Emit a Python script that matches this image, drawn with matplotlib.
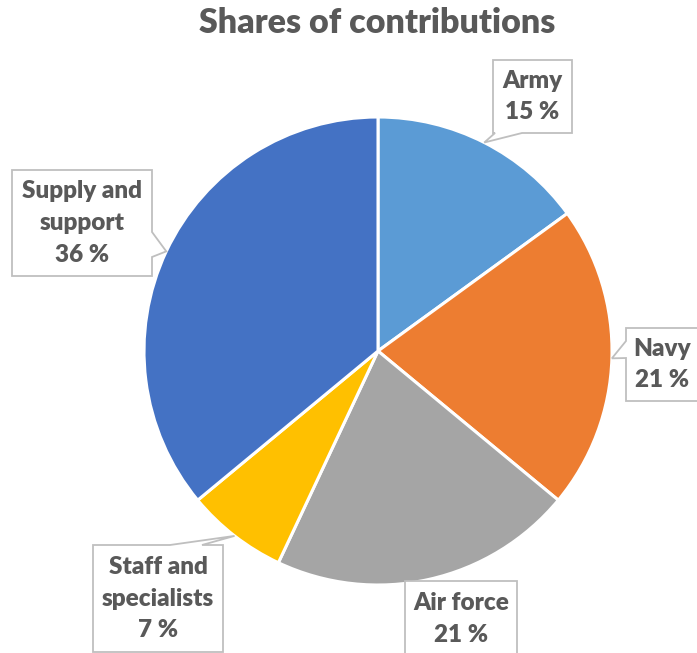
import numpy as np
import matplotlib.pyplot as plt
from matplotlib.patches import Polygon

plt.rcParams['font.family'] = ['Lato', 'DejaVu Sans']

# Shares of contributions (%), clockwise from 12 o'clock
labels = ['Army', 'Navy', 'Air force', 'Staff and\nspecialists', 'Supply and\nsupport']
shares = [15, 21, 21, 7, 36]
colors = ['#5B9BD5', '#ED7D31', '#A5A5A5', '#FFC000', '#4472C4']

W, H = 697, 653
TXT = '#595959'
EDGE = '#BFBFBF'

# pie geometry in pixel units (y measured from the top)
cx, cy, R = 378, 351, 234

# callout boxes: (x0, y0, x1, y1), pointer side, pointer base (a, b)
boxes = [
    ((493, 60, 572, 133), 'bottom', (495, 522)),
    ((626, 328, 712, 401), 'left', (341, 358)),
    ((405, 581, 517, 668), None, None),
    ((93, 545, 223, 652), 'top', (170, 202)),
    ((12, 170, 152, 276), 'right', (232, 257)),
]


def up(y):
    return H - y


def callout(ax, box, side, base, tip):
    x0, y0, x1, y1 = box
    pts = [(x0, y0), (x1, y0), (x1, y1), (x0, y1)]
    if side == 'top':
        pts = [(x0, y0), (base[0], y0), tip, (base[1], y0), (x1, y0), (x1, y1), (x0, y1)]
    elif side == 'right':
        pts = [(x0, y0), (x1, y0), (x1, base[0]), tip, (x1, base[1]), (x1, y1), (x0, y1)]
    elif side == 'bottom':
        pts = [(x0, y0), (x1, y0), (x1, y1), (base[1], y1), tip, (base[0], y1), (x0, y1)]
    elif side == 'left':
        pts = [(x0, y0), (x1, y0), (x1, y1), (x0, y1), (x0, base[1]), tip, (x0, base[0])]
    pts = [(x, up(y)) for x, y in pts]
    ax.add_patch(Polygon(pts, closed=True, facecolor='white', edgecolor=EDGE,
                         linewidth=1.3, zorder=3))


fig = plt.figure(figsize=(W / 100, H / 100), dpi=100)
ax = fig.add_axes([0, 0, 1, 1])

ax.pie(shares, colors=colors, startangle=90, counterclock=False,
       center=(cx, up(cy)), radius=R,
       wedgeprops=dict(edgecolor='white', linewidth=2.2))

ax.set_xlim(0, W)
ax.set_ylim(0, H)
ax.set_aspect('equal')
ax.axis('off')

# data labels with pointers to the slice edges
start = 0.0
for lab, val, (box, side, base) in zip(labels, shares, boxes):
    mid = np.radians((start + val / 2) / 100 * 360)
    start += val
    tip = (cx + R * np.sin(mid), cy - R * np.cos(mid))
    callout(ax, box, side, base, tip)
    x0, y0, x1, y1 = box
    tx = (x0 + x1) / 2
    ty = (y0 + y1) / 2
    if lab == 'Navy':
        tx = 662
    if lab == 'Air force':
        ty = 619
    ax.text(tx, up(ty), f'{lab}\n{val} %', ha='center', va='center',
            fontsize=17.5, fontweight='heavy', color=TXT, linespacing=1.55, zorder=4)

ax.text(377, up(23), 'Shares of contributions', ha='center', va='center',
        fontsize=24.5, fontweight='heavy', color=TXT)

fig.savefig('out.png', dpi=100)
